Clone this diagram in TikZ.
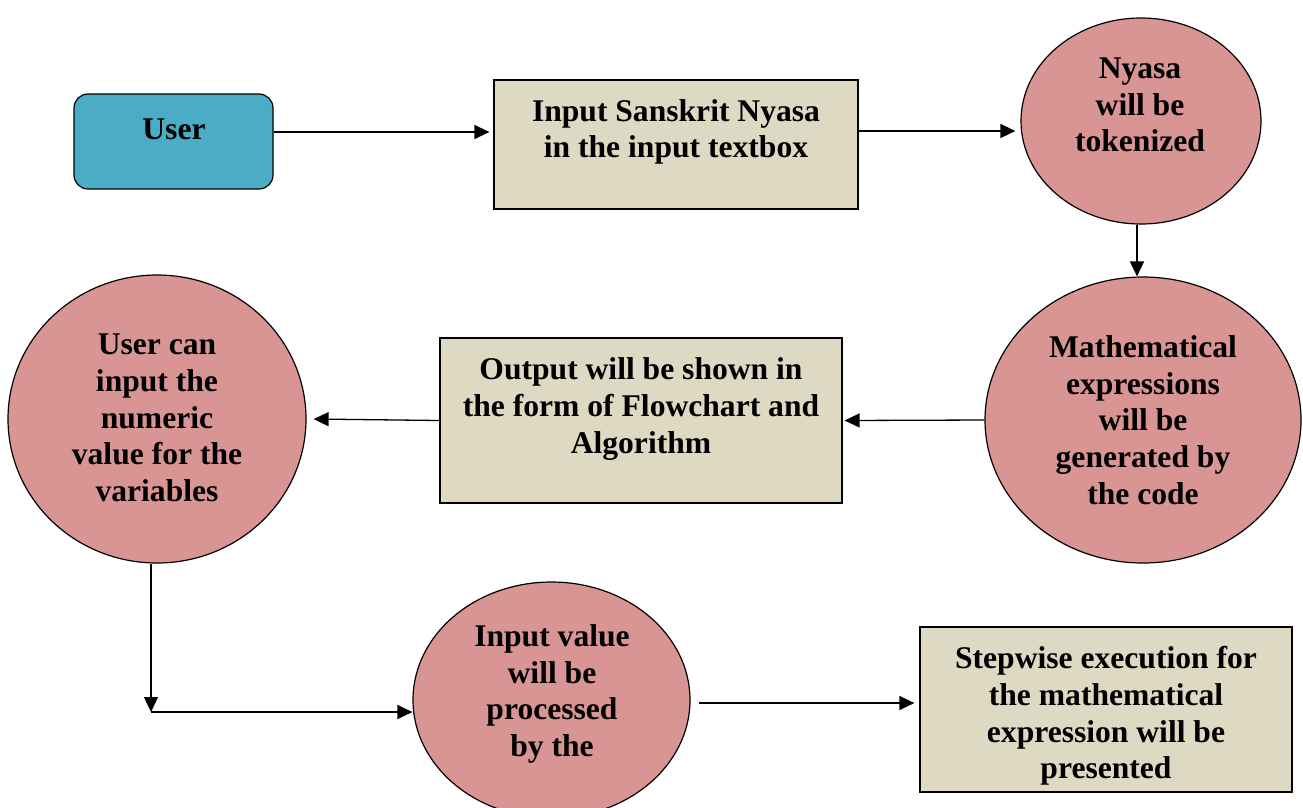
\documentclass[tikz,border=0pt]{standalone}
\usepackage{fontspec}
\setmainfont{Liberation Serif}
\usetikzlibrary{shapes.geometric,arrows.meta}
\definecolor{tealc}{HTML}{4BACC6}
\definecolor{pinkc}{HTML}{D99594}
\definecolor{beigec}{HTML}{DDD9C3}
\tikzset{
  txt/.style={font=\fontsize{31.6pt}{36.7pt}\selectfont\bfseries, align=center, inner sep=0pt},
  boxshape/.style={draw=black, line width=1.2pt, fill=beigec, rectangle, inner sep=0pt},
  ellshape/.style={draw=black, line width=1.2pt, fill=pinkc, ellipse, inner sep=0pt},
  usershape/.style={draw=black, line width=1.2pt, fill=tealc, rectangle, rounded corners=14pt, inner sep=0pt},
  arr/.style={draw=black, line width=1.3pt, -{Triangle[length=15pt,width=14pt]}}
}
\begin{document}
\begin{tikzpicture}[x=1pt,y=-1pt]
\useasboundingbox (0,0) rectangle (1303,807);
% shapes
\node[usershape, minimum width=199pt, minimum height=95pt] (user) at (173.5,141.5) {};
\node[boxshape, minimum width=364pt, minimum height=129pt] (inp) at (676,144.5) {};
\node[ellshape, minimum width=240pt, minimum height=206pt] (nya) at (1141,121) {};
\node[ellshape, minimum width=316pt, minimum height=286pt] (math) at (1143,420) {};
\node[boxshape, minimum width=402pt, minimum height=165pt] (out) at (641,420.5) {};
\node[ellshape, minimum width=298pt, minimum height=288pt] (uc) at (157,419) {};
\node[ellshape, minimum width=277pt, minimum height=236pt] (iv) at (551.5,700) {};
\node[boxshape, minimum width=372pt, minimum height=165pt] (step) at (1106,709.5) {};
% texts
\node[txt] (userT) at (174,129) {User};
\node[txt] (inpT) at (676,132) {Input Sanskrit Nyasa\\in the input textbox};
\node[txt] (nyaT) at (1140,105) {Nyasa\\will be\\tokenized};
\node[txt] (mathT) at (1143,420) {Mathematical\\expressions\\will be\\generated by\\the code};
\node[txt] (outT) at (641,409) {Output will be shown in\\the form of Flowchart and\\Algorithm};
\node[txt] (ucT) at (157,418) {User can\\input the\\numeric\\value for the\\variables};
\node[txt] (ivT) at (552,694) {Input value\\will be\\processed\\by the};
\node[txt] (stepT) at (1106,716) {Stepwise execution for\\the mathematical\\expression will be\\presented};
% connectors
\coordinate (c) at (151,712);
\draw[arr] ([yshift=9.5pt]user.east) -- ([xshift=-4pt,yshift=12.5pt]inp.west);
\draw[arr] ([yshift=13.5pt]inp.east) -- ([xshift=-5pt,yshift=-10pt]nya.west);
\draw[arr] ([xshift=-4pt]nya.south) -- ([xshift=-6pt]math.north);
\draw[arr] (math.west) -- ([xshift=2pt]out.east);
\draw[arr] (out.west) -- ([xshift=7pt]uc.east);
\draw[arr] (uc.south -| c) -- (c);
\draw[arr] (c) -- (c -| iv.west);
\draw[arr] ([xshift=8pt,yshift=-3pt]iv.east) -- ([xshift=-5pt,yshift=6.5pt]step.west);
\end{tikzpicture}
\end{document}
